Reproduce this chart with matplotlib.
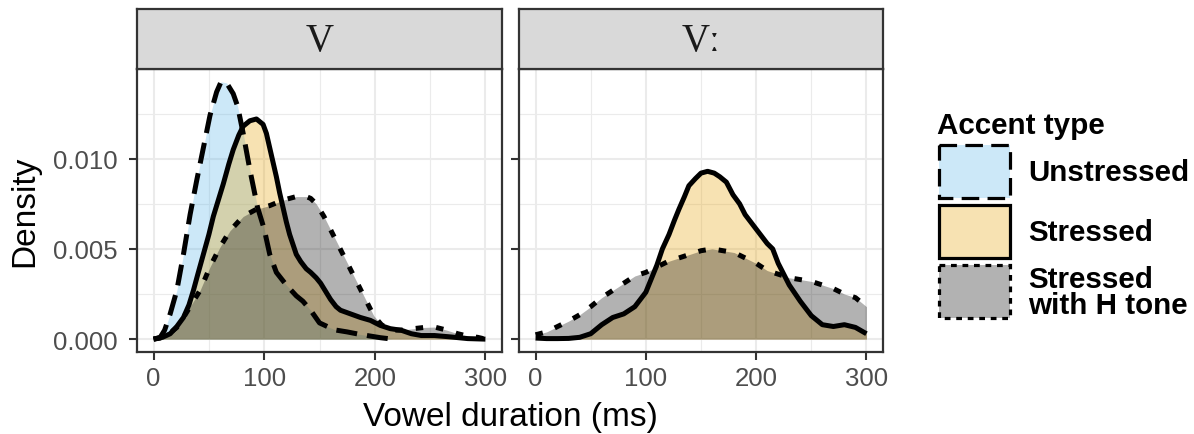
import numpy as np
import matplotlib
matplotlib.use("Agg")
import matplotlib.pyplot as plt
from matplotlib.patches import Rectangle

plt.rcParams['font.family'] = ['Liberation Sans', 'DejaVu Sans']

# ---------------- data: kernel density estimates of vowel duration ----------------
panels = ["V", "V\u02d0"]
groups = ["Unstressed", "Stressed", "Stressed\nwith H tone"]

# short vowels
short_unstressed_x = [0, 6, 10, 15, 21, 27, 33, 39, 45, 51, 57, 61, 66, 72, 76, 81, 87,
                      94, 100, 105, 111, 120, 129, 135, 142, 150, 157, 165, 175, 185,
                      195, 205, 216]
short_unstressed_y = [0.0, 0.0001, 0.0005, 0.0014, 0.0027, 0.0047, 0.0069, 0.0088,
                      0.0106, 0.0124, 0.0137, 0.01426, 0.0142, 0.0136, 0.0129, 0.0114,
                      0.0094, 0.0073, 0.0061, 0.0047, 0.0037, 0.0030, 0.0024, 0.0021,
                      0.0016, 0.0009, 0.0007, 0.0005, 0.0004, 0.00028, 0.00018, 0.00008,
                      0.0]

short_stressed_x = [0, 8, 15, 21, 27, 32, 36, 40, 45, 50, 54, 59, 63, 68, 72, 77, 81, 87,
                    93, 99, 102, 105, 108, 111, 114, 117, 120, 123, 129, 133, 138, 142,
                    147, 151, 155, 160, 165, 169, 178, 187, 196, 205, 214, 224, 233, 242,
                    254, 269, 284, 300]
short_stressed_y = [0.0, 0.0001, 0.0003, 0.0007, 0.0012, 0.0019, 0.0027, 0.0036, 0.0047,
                    0.0058, 0.0068, 0.0078, 0.0086, 0.0097, 0.0105, 0.0113, 0.0118,
                    0.0121, 0.0122, 0.0119, 0.0114, 0.0106, 0.0098, 0.0090, 0.0081,
                    0.0073, 0.0065, 0.0058, 0.0047, 0.0043, 0.0039, 0.0037, 0.0034,
                    0.0031, 0.0027, 0.0022, 0.0018, 0.0016, 0.0014, 0.0012, 0.00104,
                    0.00076, 0.00058, 0.00049, 0.0003, 0.0002, 0.0002, 0.00012, 0.00003,
                    0.0]

short_htone_x = [0, 10, 21, 27, 33, 42, 51, 60, 69, 75, 81, 93, 105, 117, 129, 138, 142,
                 147, 154, 163, 172, 181, 190, 199, 206, 214, 224, 235, 245, 254, 265,
                 275, 285, 293, 300]
short_htone_y = [0.0, 0.0001, 0.00065, 0.0012, 0.0018, 0.0027, 0.0040, 0.0051, 0.0060,
                 0.0064, 0.0068, 0.0072, 0.0074, 0.0077, 0.0079, 0.0079, 0.0078, 0.0075,
                 0.0068, 0.0057, 0.0046, 0.0035, 0.0024, 0.0013, 0.0008, 0.0005, 0.0005,
                 0.00058, 0.00065, 0.00067, 0.0005, 0.0003, 0.00015, 0.0001, 0.0]

# long vowels
long_stressed_x = [0, 10, 20, 30, 40, 50, 60, 70, 80, 90, 100, 110, 115, 121, 126, 130,
                   135, 139, 145, 150, 156, 162, 167, 173, 179, 185, 190, 200, 210, 215,
                   220, 230, 240, 250, 260, 270, 280, 290, 300]
long_stressed_y = [0.00006, 0.00003, 0.00003, 0.00004, 0.0001, 0.0003, 0.0008, 0.0012,
                   0.0014, 0.0018, 0.0026, 0.0041, 0.0050, 0.0058, 0.0066, 0.0072,
                   0.0079, 0.0085, 0.0089, 0.0092, 0.0093, 0.0092, 0.0090, 0.0087,
                   0.0080, 0.0075, 0.0069, 0.0061, 0.0053, 0.0050, 0.0042, 0.0030,
                   0.0021, 0.0013, 0.0008, 0.0007, 0.0008, 0.00065, 0.0003]

long_htone_x = [0, 10, 20, 30, 40, 50, 60, 70, 80, 90, 100, 110, 120, 130, 140, 150, 160,
                170, 180, 190, 200, 210, 220, 230, 240, 250, 260, 270, 280, 290, 300]
long_htone_y = [0.00024, 0.0004, 0.0007, 0.0010, 0.00135, 0.0018, 0.0023, 0.0027, 0.0031,
                0.0035, 0.0037, 0.0040, 0.0043, 0.0045, 0.0047, 0.0049, 0.0050, 0.0049,
                0.0048, 0.0045, 0.0042, 0.0038, 0.0036, 0.0034, 0.0033, 0.0032, 0.0030,
                0.0028, 0.0025, 0.0023, 0.0018]

x_ticks = [0, 100, 200, 300]
y_ticks = [0.000, 0.005, 0.010]
y_tick_labels = ["0.000", "0.005", "0.010"]

# ---------------- styling ----------------
fills = ["#56B4E9", "#E69F00", "#000000"]
LW = 3.6
styles = [dict(ls=(0, (4.2, 2.0)), dash_capstyle="butt"),
          dict(ls="solid", solid_capstyle="butt"),
          dict(ls=(0, (1.5, 2.6)), dash_capstyle="butt")]
FILL_ALPHA = 0.3
GRID = "#ebebeb"
FRAME = "#333333"
TICK_TXT = "#4d4d4d"

series = [
    [(short_unstressed_x, short_unstressed_y, 0),
     (short_stressed_x, short_stressed_y, 1),
     (short_htone_x, short_htone_y, 2)],
    [(long_stressed_x, long_stressed_y, 1),
     (long_htone_x, long_htone_y, 2)],
]

W, H = 1194, 435
fig = plt.figure(figsize=(W / 100, H / 100), dpi=100)


def px_box(left, top, right, bottom):
    return [left / W, 1 - bottom / H, (right - left) / W, (bottom - top) / H]


panel_px = [(137, 70, 502, 353), (519, 70, 883, 353)]

for i, (l, t, r, b) in enumerate(panel_px):
    ax = fig.add_axes(px_box(l, t, r, b))
    ax.set_xlim(-15, 315)
    ax.set_ylim(-0.000713, 0.01497)
    ax.set_facecolor("white")
    ax.set_axisbelow(True)

    ax.set_xticks(x_ticks)
    ax.set_xticks([50, 150, 250], minor=True)
    ax.set_yticks(y_ticks)
    ax.set_yticks([0.0025, 0.0075, 0.0125], minor=True)
    ax.grid(which="major", color=GRID, lw=1.5)
    ax.grid(which="minor", color=GRID, lw=0.8)
    ax.tick_params(which="minor", length=0)
    ax.tick_params(which="major", length=6, width=1.5, color=FRAME,
                   labelsize=18.5, labelcolor=TICK_TXT, pad=4)
    if i == 0:
        ax.set_yticklabels(y_tick_labels)
        ax.tick_params(axis="y", pad=8)
    else:
        ax.tick_params(axis="y", labelleft=False)
    for sp in ax.spines.values():
        sp.set_color(FRAME)
        sp.set_linewidth(1.6)

    for xs, ys, g in series[i]:
        ax.fill_between(xs, ys, 0, color=fills[g], alpha=FILL_ALPHA, lw=0)
        ax.plot(xs, ys, color="black", lw=LW, **styles[g])

    # facet strip
    sax = fig.add_axes(px_box(l, 10, r, t))
    sax.set_facecolor("#d9d9d9")
    sax.set_xticks([])
    sax.set_yticks([])
    for sp in sax.spines.values():
        sp.set_color(FRAME)
        sp.set_linewidth(1.6)
    sax.text(0.5, 0.47, panels[i], transform=sax.transAxes, ha="center",
             va="center", fontsize=28, color="#1a1a1a",
             family=["Liberation Serif", "DejaVu Serif"])

# overlay in pixel coordinates for axis titles and legend
ov = fig.add_axes([0, 0, 1, 1], zorder=5)
ov.set_xlim(0, W)
ov.set_ylim(H, 0)
ov.axis("off")

ov.text(510, 426, "Vowel duration (ms)", ha="center", va="baseline",
        fontsize=24, color="black")
ov.text(25, 211.5, "Density", ha="center", va="center", rotation=90,
        fontsize=24, color="black")

ov.text(937, 126, "Accent type", ha="left", va="center", fontsize=21.3,
        fontweight="bold", color="black")
key_tops = [146, 206, 266]
key_styles = [dict(ls=(0, (5.5, 2.6)), capstyle="butt"),
              dict(ls="solid"),
              dict(ls=(0, (1.8, 1.8)), capstyle="butt")]
for g, kt in enumerate(key_tops):
    ov.add_patch(Rectangle((938.5, kt), 71, 53, facecolor=fills[g],
                           alpha=FILL_ALPHA, lw=0))
    ov.add_patch(Rectangle((938.5, kt), 71, 53, facecolor="none",
                           edgecolor="black", lw=2.3, **key_styles[g]))
    ov.text(1028, kt + 27, groups[g], ha="left", va="center", fontsize=21.3,
            fontweight="bold", color="black", linespacing=0.95)

fig.savefig("out.png", dpi=100)
